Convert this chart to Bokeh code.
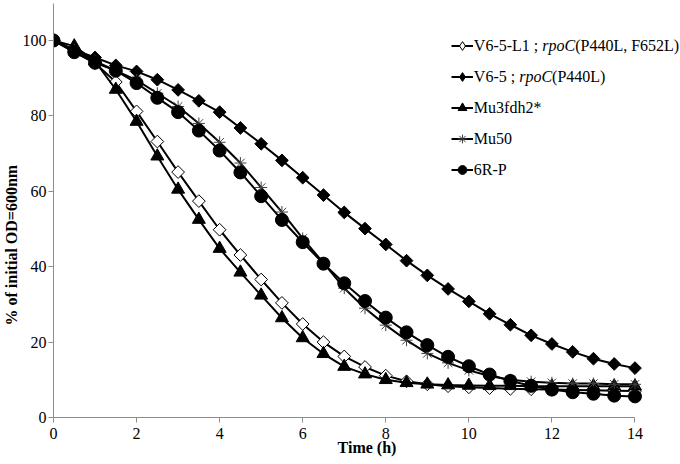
import math
from bokeh.plotting import figure
from bokeh.models import (Range1d, FixedTicker, Label, Legend, LegendItem, Title,
                          ColumnDataSource, CDSView, IndexFilter)
from bokeh.embed import file_html
from bokeh.resources import INLINE

# ---------------- data ----------------
time_h = [0, 0.5, 1, 1.5, 2, 2.5, 3, 3.5, 4, 4.5, 5, 5.5, 6, 6.5, 7,
          7.5, 8, 8.5, 9, 9.5, 10, 10.5, 11, 11.5, 12, 12.5, 13, 13.5, 14]

v65_l1 = [100, 97.0, 94.0, 89.0, 81.2, 73.2, 65.1, 57.4, 49.8, 43.1, 36.6, 30.4, 24.8, 20.0, 16.2,
          13.4, 11.1, 9.6, 8.8, 8.3, 8.0, 7.8, 7.6, 7.5, 7.4, 7.3, 7.2, 7.1, 7.0]
v65 = [100, 97.5, 95.5, 93.4, 91.8, 89.6, 86.9, 84.0, 81.0, 76.8, 72.6, 68.2, 63.6, 59.0, 54.4,
       50.1, 45.9, 41.6, 37.7, 34.1, 30.8, 27.5, 24.6, 21.8, 19.5, 17.4, 15.6, 14.2, 13.1]
mu3fdh2 = [100, 98.5, 94.5, 87.0, 78.5, 69.3, 60.5, 52.5, 44.8, 38.5, 32.4, 26.4, 21.1, 16.9, 13.5,
           11.5, 10.0, 9.2, 8.8, 8.6, 8.5, 8.4, 8.4, 8.3, 8.3, 8.3, 8.3, 8.3, 8.3]
mu50 = [100, 97.5, 94.5, 92.0, 89.5, 86.0, 82.5, 78.0, 73.0, 67.5, 61.0, 54.5, 47.5, 41.0, 34.3,
        29.0, 24.5, 20.5, 17.0, 14.5, 12.5, 11.0, 10.0, 9.5, 9.2, 9.0, 9.0, 8.8, 8.8]
r6p = [100, 96.9, 94.1, 92.0, 88.7, 84.8, 81.0, 76.1, 70.8, 65.0, 58.7, 52.4, 46.5, 40.8, 35.6,
       30.9, 26.5, 22.6, 19.2, 16.1, 13.6, 11.4, 9.7, 8.4, 7.4, 6.7, 6.3, 5.8, 5.6]

x_ticks = [0, 2, 4, 6, 8, 10, 12, 14]
y_ticks = [0, 20, 40, 60, 80, 100]

legend_parts = [
    [("V6-5-L1 ; ", "normal"), ("rpoC", "italic"), ("(P440L, F652L)", "normal")],
    [("V6-5 ; ", "normal"), ("rpoC", "italic"), ("(P440L)", "normal")],
    [("Mu3fdh2*", "normal")],
    [("Mu50", "normal")],
    [("6R-P", "normal")],
]

FONT = "Liberation Serif"
FS = 16

W, H = 680, 464
LEFT, TOP, BOTTOM = 52, 3, 47
PX_PER_H = 41.6
FRAME_W = W - LEFT
FRAME_H = H - TOP - BOTTOM
PX_PER_V = 3.77

p = figure(width=W, height=H, output_backend="svg", toolbar_location=None,
           x_range=Range1d(0, FRAME_W / PX_PER_H), y_range=Range1d(0, FRAME_H / PX_PER_V),
           min_border_left=LEFT, min_border_right=0, min_border_top=TOP, min_border_bottom=BOTTOM)
p.outline_line_color = None
p.xgrid.visible = False
p.ygrid.visible = False

for ax, ticks in ((p.xaxis[0], x_ticks), (p.yaxis[0], y_ticks)):
    ax.ticker = FixedTicker(ticks=ticks)
    ax.axis_line_color = "#8c8c8c"
    ax.major_tick_line_color = "#8c8c8c"
    ax.minor_tick_line_color = None
    ax.major_tick_in = 0
    ax.major_tick_out = 5
    ax.major_label_text_font = FONT
    ax.major_label_text_font_size = "16px"
    ax.major_label_text_color = "black"
    ax.axis_label_text_font = FONT
    ax.axis_label_text_font_size = "16px"
    ax.axis_label_text_font_style = "bold"
    ax.axis_label_text_color = "black"
p.xaxis[0].bounds = (0, 14)
p.xaxis[0].major_label_standoff = 5
p.yaxis[0].major_label_standoff = 2
p.xaxis[0].axis_label = "Time (h)"
p.xaxis[0].axis_label_standoff = -3

# y-axis title as a side Title so it can be shifted along the axis
p.add_layout(Title(text="% of initial OD=600nm", text_font=FONT, text_font_size="16px",
                   text_font_style="bold", text_color="black", align="left",
                   offset=92, standoff=0), "left")

series = [
    (v65_l1, dict(marker="square", angle=math.pi / 4, size=9, fill_color="white", line_color="black", line_width=1), "diamond", "white"),
    (v65, dict(marker="square", angle=math.pi / 4, size=9, fill_color="black", line_color="black", line_width=1), "diamond", "black"),
    (mu3fdh2, dict(marker="triangle", size=13, fill_color="black", line_color="black", line_width=1), "triangle", "black"),
    (mu50, dict(marker="asterisk", size=12, line_color="#404040", line_width=1), "asterisk", None),
    (r6p, dict(marker="circle", size=13, fill_color="black", line_color="black", line_width=1), "circle", "black"),
]

sources = [ColumnDataSource(dict(t=time_h, v=s[0])) for s in series]

# legend-only proxies (first point only, tiny; covered by the real markers drawn afterwards)
items = []
for src, (vals, mk, leg_marker, leg_fill) in zip(sources, series):
    lr = p.line("t", "v", source=src, view=CDSView(filter=IndexFilter(indices=[0])),
                line_color="black", line_width=2)
    kw = dict(marker=leg_marker, size=1,
              line_color="#404040" if leg_marker == "asterisk" else "black", line_width=1)
    if leg_fill is not None:
        kw["fill_color"] = leg_fill
    sr = p.scatter("t", "v", source=src, view=CDSView(filter=IndexFilter(indices=[0])), **kw)
    items.append(LegendItem(label=" ", renderers=[lr, sr]))

for src, (vals, mk, leg_marker, leg_fill) in zip(sources, series):
    p.line("t", "v", source=src, line_color="black", line_width=2)
    p.scatter("t", "v", source=src, **mk)

legend = Legend(items=items, location=(450 - LEFT, int(H - BOTTOM - 184.5)), glyph_width=22, glyph_height=31,
                label_height=31, spacing=0, padding=0, margin=0,
                border_line_color=None, background_fill_alpha=0,
                label_text_font_size="1px", label_standoff=0, label_width=0)
p.add_layout(legend)

# Legend texts (with italic gene names); widths in em for Times/Liberation Serif
em_widths = {"V6-5-L1 ; ": 4.277, "V6-5 ; ": 2.833, "rpoC": 2.056}
text_x = (473 - LEFT) / PX_PER_H
for i, parts in enumerate(legend_parts):
    y = (H - BOTTOM - (45 + 31 * i)) / PX_PER_V
    off = 0.0
    for txt, style in parts:
        p.add_layout(Label(x=text_x, y=y, x_offset=off, text=txt, text_font=FONT,
                           text_font_size=f"{FS}px", text_font_style=style,
                           text_baseline="middle", text_align="left", text_color="black"))
        off += em_widths.get(txt, 0) * FS

open("out.html", "w").write(file_html(p, INLINE))
